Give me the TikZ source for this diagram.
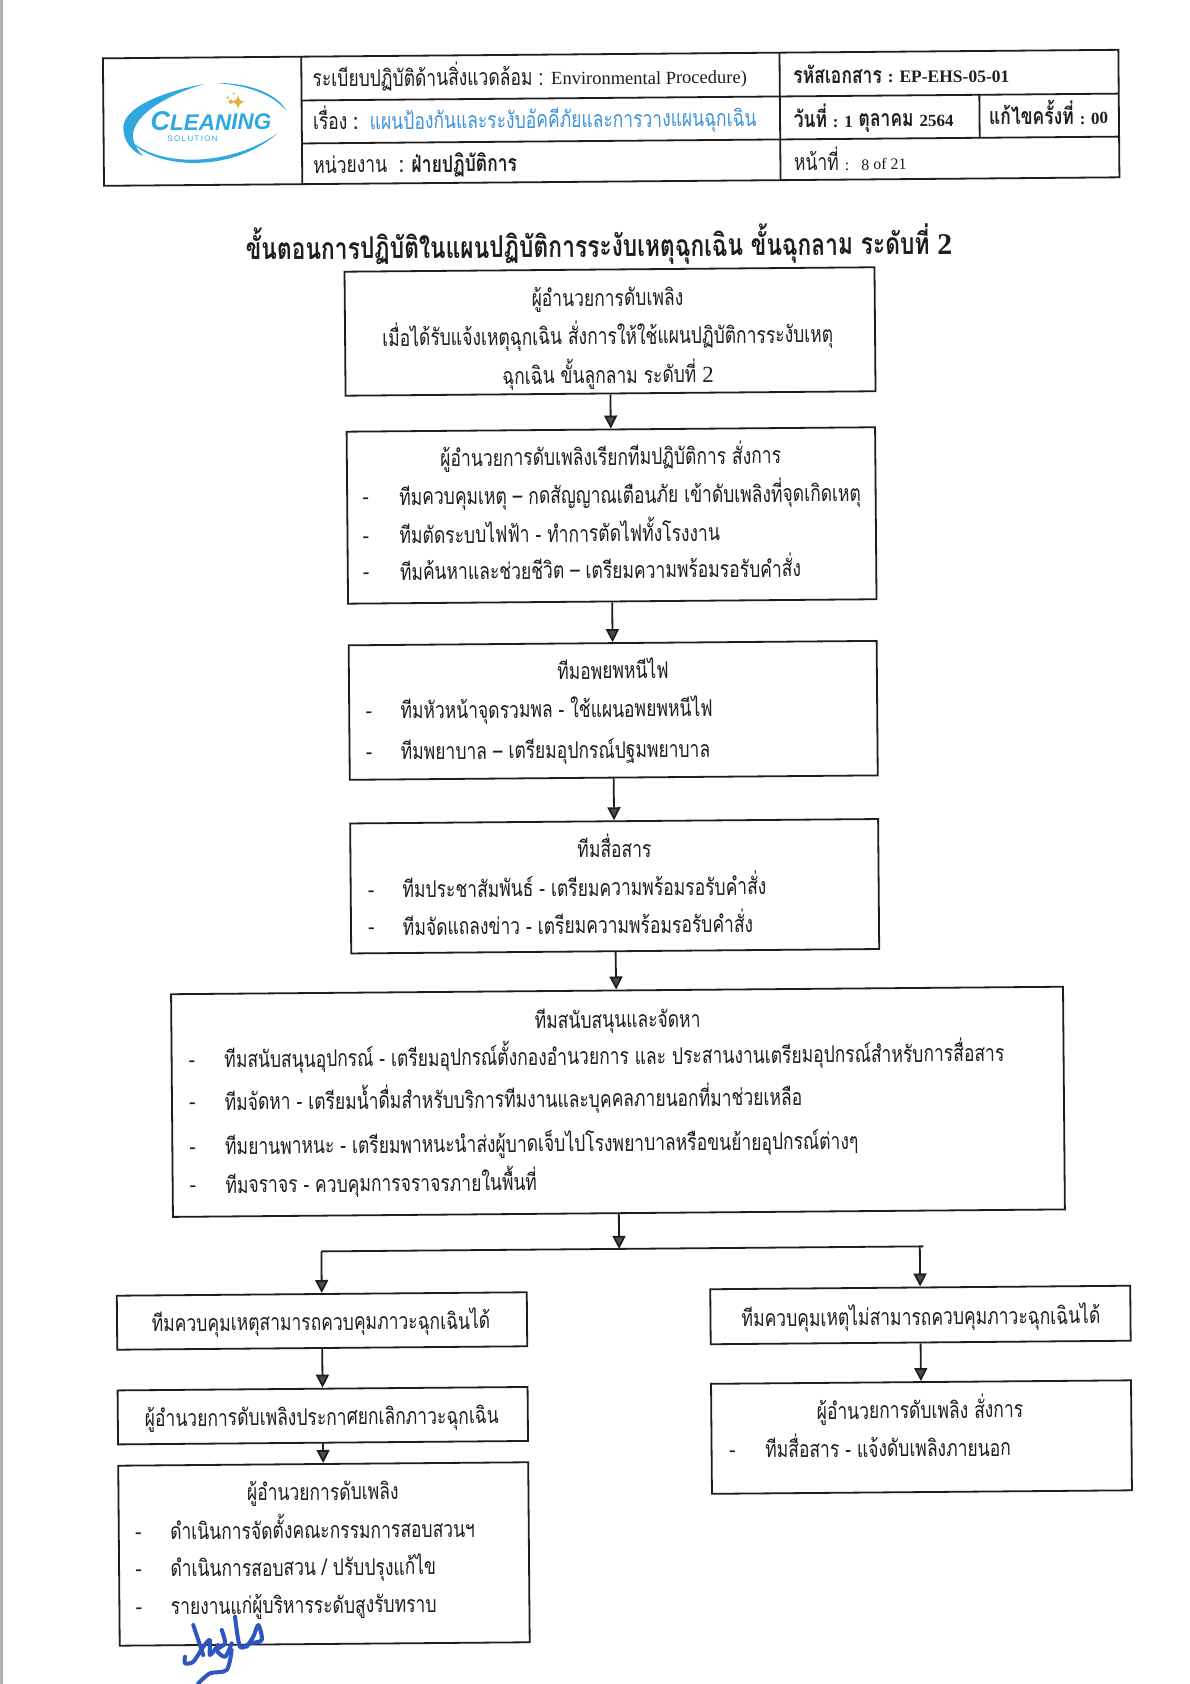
\documentclass[tikz,border=0pt]{standalone}
\usepackage{fontspec}
\setmainfont{Liberation Serif}
\newfontfamily\thaifont[Script=Thai,FakeStretch=0.76]{Loma}
\newfontfamily\logofont{Liberation Sans}
\usetikzlibrary{arrows.meta}
\definecolor{inkblack}{HTML}{1E1E1E}
\definecolor{topicblue}{HTML}{3F93DC}
\definecolor{logoblue}{HTML}{2FA8E0}
\definecolor{logogold}{HTML}{E8B04A}
\definecolor{signblue}{HTML}{2F55BE}
\begin{document}
\begin{tikzpicture}[x=1pt,y=-1pt,
	boxnode/.style={draw=inkblack,line width=1.8pt,fill=none,inner sep=0pt},
	flowline/.style={draw=inkblack,line width=1.8pt},
	flowarrow/.style={flowline,-{Triangle[length=13pt,width=13pt,fill=black!70]}},
	linetext/.style={inner sep=0pt,text=inkblack,yshift=-2.5pt,text height=17pt,text depth=5pt,font=\thaifont\fontsize{23}{27}\selectfont},
	dashtext/.style={inner sep=0pt,text=inkblack,yshift=-4pt,font=\rmfamily\bfseries\fontsize{20}{20}\selectfont},
	boldhead/.style={inner sep=0pt,text=inkblack,yshift=-2.5pt,text height=17pt,text depth=5pt,font=\thaifont\bfseries\fontsize{23}{27}\selectfont}]
	\useasboundingbox (0,0) rectangle (1190,1684);
	\fill[white] (0,0) rectangle (1190,1684);
	\fill[black!30] (0,0) rectangle (3,1684);

	\begin{scope}[rotate around={0.48:(595,842)},transform shape]

		\draw[line width=1.8pt,draw=inkblack] (109.5,54.2) rectangle (1125,181.7);
		\draw[line width=1.8pt,draw=inkblack] (307.8,54.2) -- (307.8,181.7);
		\draw[line width=1.8pt,draw=inkblack] (786.1,54.2) -- (786.1,181.7);
		\draw[line width=1.8pt,draw=inkblack] (985.6,98) -- (985.6,141);
		\draw[line width=1.8pt,draw=inkblack] (307.8,98) -- (1125,98);
		\draw[line width=1.8pt,draw=inkblack] (307.8,141) -- (1125,141);

		\begin{scope}[shift={(6,-3.4)}]
			\fill[logoblue] (205,84) .. controls (160,92) and (122,108) .. (123.3,128.3) .. controls (124,142) and (132,151) .. (143.3,156) .. controls (134,147) and (130,136) .. (135,126.7) .. controls (142,110) and (170,94) .. (205,84) -- cycle;
			\fill[logoblue] (128.3,138.3) .. controls (150,168) and (230,176) .. (278.3,133.3) .. controls (235,165) and (160,170) .. (128.3,138.3) -- cycle;
			\fill[logoblue] (216.7,83.3) .. controls (250,83) and (278,95) .. (286.7,111.7) .. controls (274,96) and (250,86) .. (216.7,83.3) -- cycle;
			\node[inner sep=0pt,text=logoblue,font=\logofont\bfseries\itshape\fontsize{22.5}{22}\selectfont] (logoname) at (211,121) {{\fontsize{27}{27}\selectfont C}LEANING};
			\node[inner sep=0pt,text=logoblue,font=\logofont\fontsize{8}{8}\selectfont] (logosub) at (192.5,139) {S\,O\,L\,U\,T\,I\,O\,N};
			\fill[logogold] (238.3,95) .. controls (239,100) and (240,101) .. (245,102.3) .. controls (240,103.5) and (239,105) .. (238.3,110) .. controls (237.5,105) and (236,103.5) .. (231.5,102.3) .. controls (236,101) and (237.5,100) .. (238.3,95) -- cycle;
			\fill[logogold] (231,102) circle (2.2pt);
			\fill[logogold] (228,98) circle (1.4pt);
			\fill[logogold] (234,94) circle (1.2pt);
		\end{scope}

		\node[linetext,anchor=west] (rulename) at (318.8,76.1) {ระเบียบปฏิบัติด้านสิ่งแวดล้อม : {\rmfamily\fontsize{18.5}{22}\selectfont Environmental Procedure)}};
		\node[linetext,anchor=west] (topiclabel) at (318.8,119) {เรื่อง  \textbf{:}\ \ \textcolor{topicblue}{แผนป้องกันและระงับอัคคีภัยและการวางแผนฉุกเฉิน}};
		\node[linetext,anchor=west] (unitlabel) at (318.8,162.4) {หน่วยงาน \ \textbf{: ฝ่ายปฏิบัติการ}};
		\node[boldhead,anchor=west] (doccode) at (799.6,76.9) {รหัสเอกสาร {\rmfamily\fontsize{17.5}{22}\selectfont : EP-EHS-05-01}};
		\node[boldhead,anchor=west] (docdate) at (799.6,120.6) {วันที่ {\rmfamily\fontsize{17}{22}\selectfont : 1} ตุลาคม {\rmfamily\fontsize{17}{22}\selectfont 2564}};
		\node[boldhead,anchor=west] (docrev) at (995,119.7) {แก้ไขครั้งที่ {\rmfamily\fontsize{17}{22}\selectfont : 00}};
		\node[linetext,anchor=west] (docpage) at (799.6,163.8) {หน้าที่ {\rmfamily\fontsize{16}{20}\selectfont :\ \ \ 8 of 21}};

		\node[inner sep=0pt,text=inkblack,text height=22pt,text depth=6pt,font=\thaifont\bfseries\fontsize{30}{34}\selectfont] (title) at (604,249) {ขั้นตอนการปฏิบัติในแผนปฏิบัติการระงับเหตุฉุกเฉิน ขั้นฉุกลาม ระดับที่ {\rmfamily 2}};

		\node[boxnode,minimum width=530pt,minimum height=124pt] (box1) at (614.3,331.6) {};
		\node[boxnode,minimum width=528.5pt,minimum height=172pt] (box2) at (614.3,515.6) {};
		\node[boxnode,minimum width=528pt,minimum height=134.5pt] (box3) at (614.3,710.5) {};
		\node[boxnode,minimum width=528pt,minimum height=130pt] (box4) at (614.3,886.4) {};
		\node[boxnode,minimum width=892pt,minimum height=222.7pt] (box5) at (615.8,1102) {};
		\node[boxnode,minimum width=410pt,minimum height=54pt] (okbox1) at (318,1318.7) {};
		\node[boxnode,minimum width=410pt,minimum height=54pt] (okbox2) at (318,1413.4) {};
		\node[boxnode,minimum width=410pt,minimum height=180pt] (okbox3) at (318,1551.7) {};
		\node[boxnode,minimum width=420pt,minimum height=55pt] (failbox1) at (916.5,1317.7) {};
		\node[boxnode,minimum width=420pt,minimum height=110pt] (failbox2) at (916.5,1439.8) {};

		\node[linetext] (box1a) at (612,297.7) {ผู้อำนวยการดับเพลิง};
		\node[linetext] (box1b) at (612,336) {เมื่อได้รับแจ้งเหตุฉุกเฉิน สั่งการให้ใช้แผนปฏิบัติการระงับเหตุ};
		\node[linetext] (box1c) at (612,375) {ฉุกเฉิน ขั้นลูกลาม ระดับที่ {\rmfamily 2}};

		\node[linetext] (box2a) at (614,456.8) {ผู้อำนวยการดับเพลิงเรียกทีมปฏิบัติการ สั่งการ};
		\node[dashtext] (box2d1) at (368.5,495) {-};
		\node[linetext,anchor=west] (box2b) at (402,495) {ทีมควบคุมเหตุ – กดสัญญาณเตือนภัย  เข้าดับเพลิงที่จุดเกิดเหตุ};
		\node[dashtext] (box2d2) at (368.5,533.4) {-};
		\node[linetext,anchor=west] (box2c) at (402,533.4) {ทีมตัดระบบไฟฟ้า - ทำการตัดไฟทั้งโรงงาน};
		\node[dashtext] (box2d3) at (368.5,570) {-};
		\node[linetext,anchor=west] (box2e) at (402,570) {ทีมค้นหาและช่วยชีวิต – เตรียมความพร้อมรอรับคำสั่ง};

		\node[linetext] (box3a) at (614.4,670.5) {ทีมอพยพหนีไฟ};
		\node[dashtext] (box3d1) at (370,708.8) {-};
		\node[linetext,anchor=west] (box3b) at (401.4,708.8) {ทีมหัวหน้าจุดรวมพล - ใช้แผนอพยพหนีไฟ};
		\node[dashtext] (box3d2) at (370,749.7) {-};
		\node[linetext,anchor=west] (box3c) at (401.4,749.7) {ทีมพยาบาล – เตรียมอุปกรณ์ปฐมพยาบาล};

		\node[linetext] (box4a) at (614.4,849.2) {ทีมสื่อสาร};
		\node[dashtext] (box4d1) at (370.8,887.6) {-};
		\node[linetext,anchor=west] (box4b) at (402,887.6) {ทีมประชาสัมพันธ์ - เตรียมความพร้อมรอรับคำสั่ง};
		\node[dashtext] (box4d2) at (370.8,925.2) {-};
		\node[linetext,anchor=west] (box4c) at (402,925.2) {ทีมจัดแถลงข่าว - เตรียมความพร้อมรอรับคำสั่ง};

		\node[linetext] (box5a) at (616.2,1019.5) {ทีมสนับสนุนและจัดหา};
		\node[dashtext] (box5d1) at (190.1,1056.2) {-};
		\node[linetext,anchor=west] (box5b) at (222.4,1056.2) {ทีมสนับสนุนอุปกรณ์ - เตรียมอุปกรณ์ตั้งกองอำนวยการ และ ประสานงานเตรียมอุปกรณ์สำหรับการสื่อสาร};
		\node[dashtext] (box5d2) at (190.1,1098.6) {-};
		\node[linetext,anchor=west] (box5c) at (222.4,1098.6) {ทีมจัดหา - เตรียมน้ำดื่มสำหรับบริการทีมงานและบุคคลภายนอกที่มาช่วยเหลือ};
		\node[dashtext] (box5d3) at (190.1,1142.9) {-};
		\node[linetext,anchor=west] (box5e) at (222.4,1142.9) {ทีมยานพาหนะ - เตรียมพาหนะนำส่งผู้บาดเจ็บไปโรงพยาบาลหรือขนย้ายอุปกรณ์ต่างๆ};
		\node[dashtext] (box5d4) at (190.1,1181.5) {-};
		\node[linetext,anchor=west] (box5f) at (222.4,1181.5) {ทีมจราจร - ควบคุมการจราจรภายในพื้นที่};

		\node[linetext] (okbox1a) at (317,1319.4) {ทีมควบคุมเหตุสามารถควบคุมภาวะฉุกเฉินได้};
		\node[linetext] (okbox2a) at (317,1414.4) {ผู้อำนวยการดับเพลิงประกาศยกเลิกภาวะฉุกเฉิน};
		\node[linetext] (okbox3a) at (317.3,1489.4) {ผู้อำนวยการดับเพลิง};
		\node[dashtext] (okbox3d1) at (132.5,1527.7) {-};
		\node[linetext,anchor=west] (okbox3b) at (164.2,1527.7) {ดำเนินการจัดตั้งคณะกรรมการสอบสวนฯ};
		\node[dashtext] (okbox3d2) at (132.5,1564.8) {-};
		\node[linetext,anchor=west] (okbox3c) at (164.2,1564.8) {ดำเนินการสอบสวน / ปรับปรุงแก้ไข};
		\node[dashtext] (okbox3d3) at (132.5,1602.5) {-};
		\node[linetext,anchor=west] (okbox3e) at (164.2,1602.5) {รายงานแก่ผู้บริหารระดับสูงรับทราบ};

		\node[linetext] (failbox1a) at (917,1319.4) {ทีมควบคุมเหตุไม่สามารถควบคุมภาวะฉุกเฉินได้};
		\node[linetext] (failbox2a) at (915.2,1412.7) {ผู้อำนวยการดับเพลิง สั่งการ};
		\node[dashtext] (failbox2d1) at (727.2,1450.8) {-};
		\node[linetext,anchor=west] (failbox2b) at (760,1450.8) {ทีมสื่อสาร - แจ้งดับเพลิงภายนอก};

		\coordinate (split) at (615.8,1249.2);
		\coordinate (splitL) at (318,1249.2);
		\coordinate (splitR) at (916.5,1249.2);
		\coordinate (splitEnd) at (920,1249.2);

		\draw[flowarrow] (box1) -- (box2);
		\draw[flowarrow] (box2) -- (box3);
		\draw[flowarrow] (box3) -- (box4);
		\draw[flowarrow] (box4) -- (box5);
		\draw[flowarrow] (box5) -- (split);
		\draw[flowline] (splitL) -- (splitEnd);
		\draw[flowarrow] (splitL) -- (okbox1);
		\draw[flowarrow] (splitR) -- (failbox1);
		\draw[flowarrow] (okbox1) -- (okbox2);
		\draw[flowarrow] (okbox2) -- (okbox3);
		\draw[flowarrow] (failbox1) -- (failbox2);
	\end{scope}

	\draw[signblue,line width=4pt,line join=round,line cap=round] (193.3,1625) -- (203.3,1655);
	\draw[signblue,line width=4pt,line join=round,line cap=round] plot[smooth] coordinates {(185,1656.7) (185,1663.3) (193.3,1661.7) (203.3,1646.7) (210,1640) (210,1655) (218,1645)};
	\draw[signblue,line width=4pt,line join=round,line cap=round] plot[smooth] coordinates {(221.7,1630) (225,1643.3) (216.7,1650) (225,1656.7) (231.7,1643.3)};
	\draw[signblue,line width=4pt,line join=round,line cap=round] plot[smooth] coordinates {(231.7,1650) (226.7,1670) (210,1673.3) (198.3,1683.3)};
	\draw[signblue,line width=4pt,line join=round,line cap=round] plot[smooth] coordinates {(235,1616.7) (240,1646.7) (250,1643.3) (261.7,1640) (258.3,1625) (253.3,1636.7) (246.7,1646.7)};
\end{tikzpicture}
\end{document}
